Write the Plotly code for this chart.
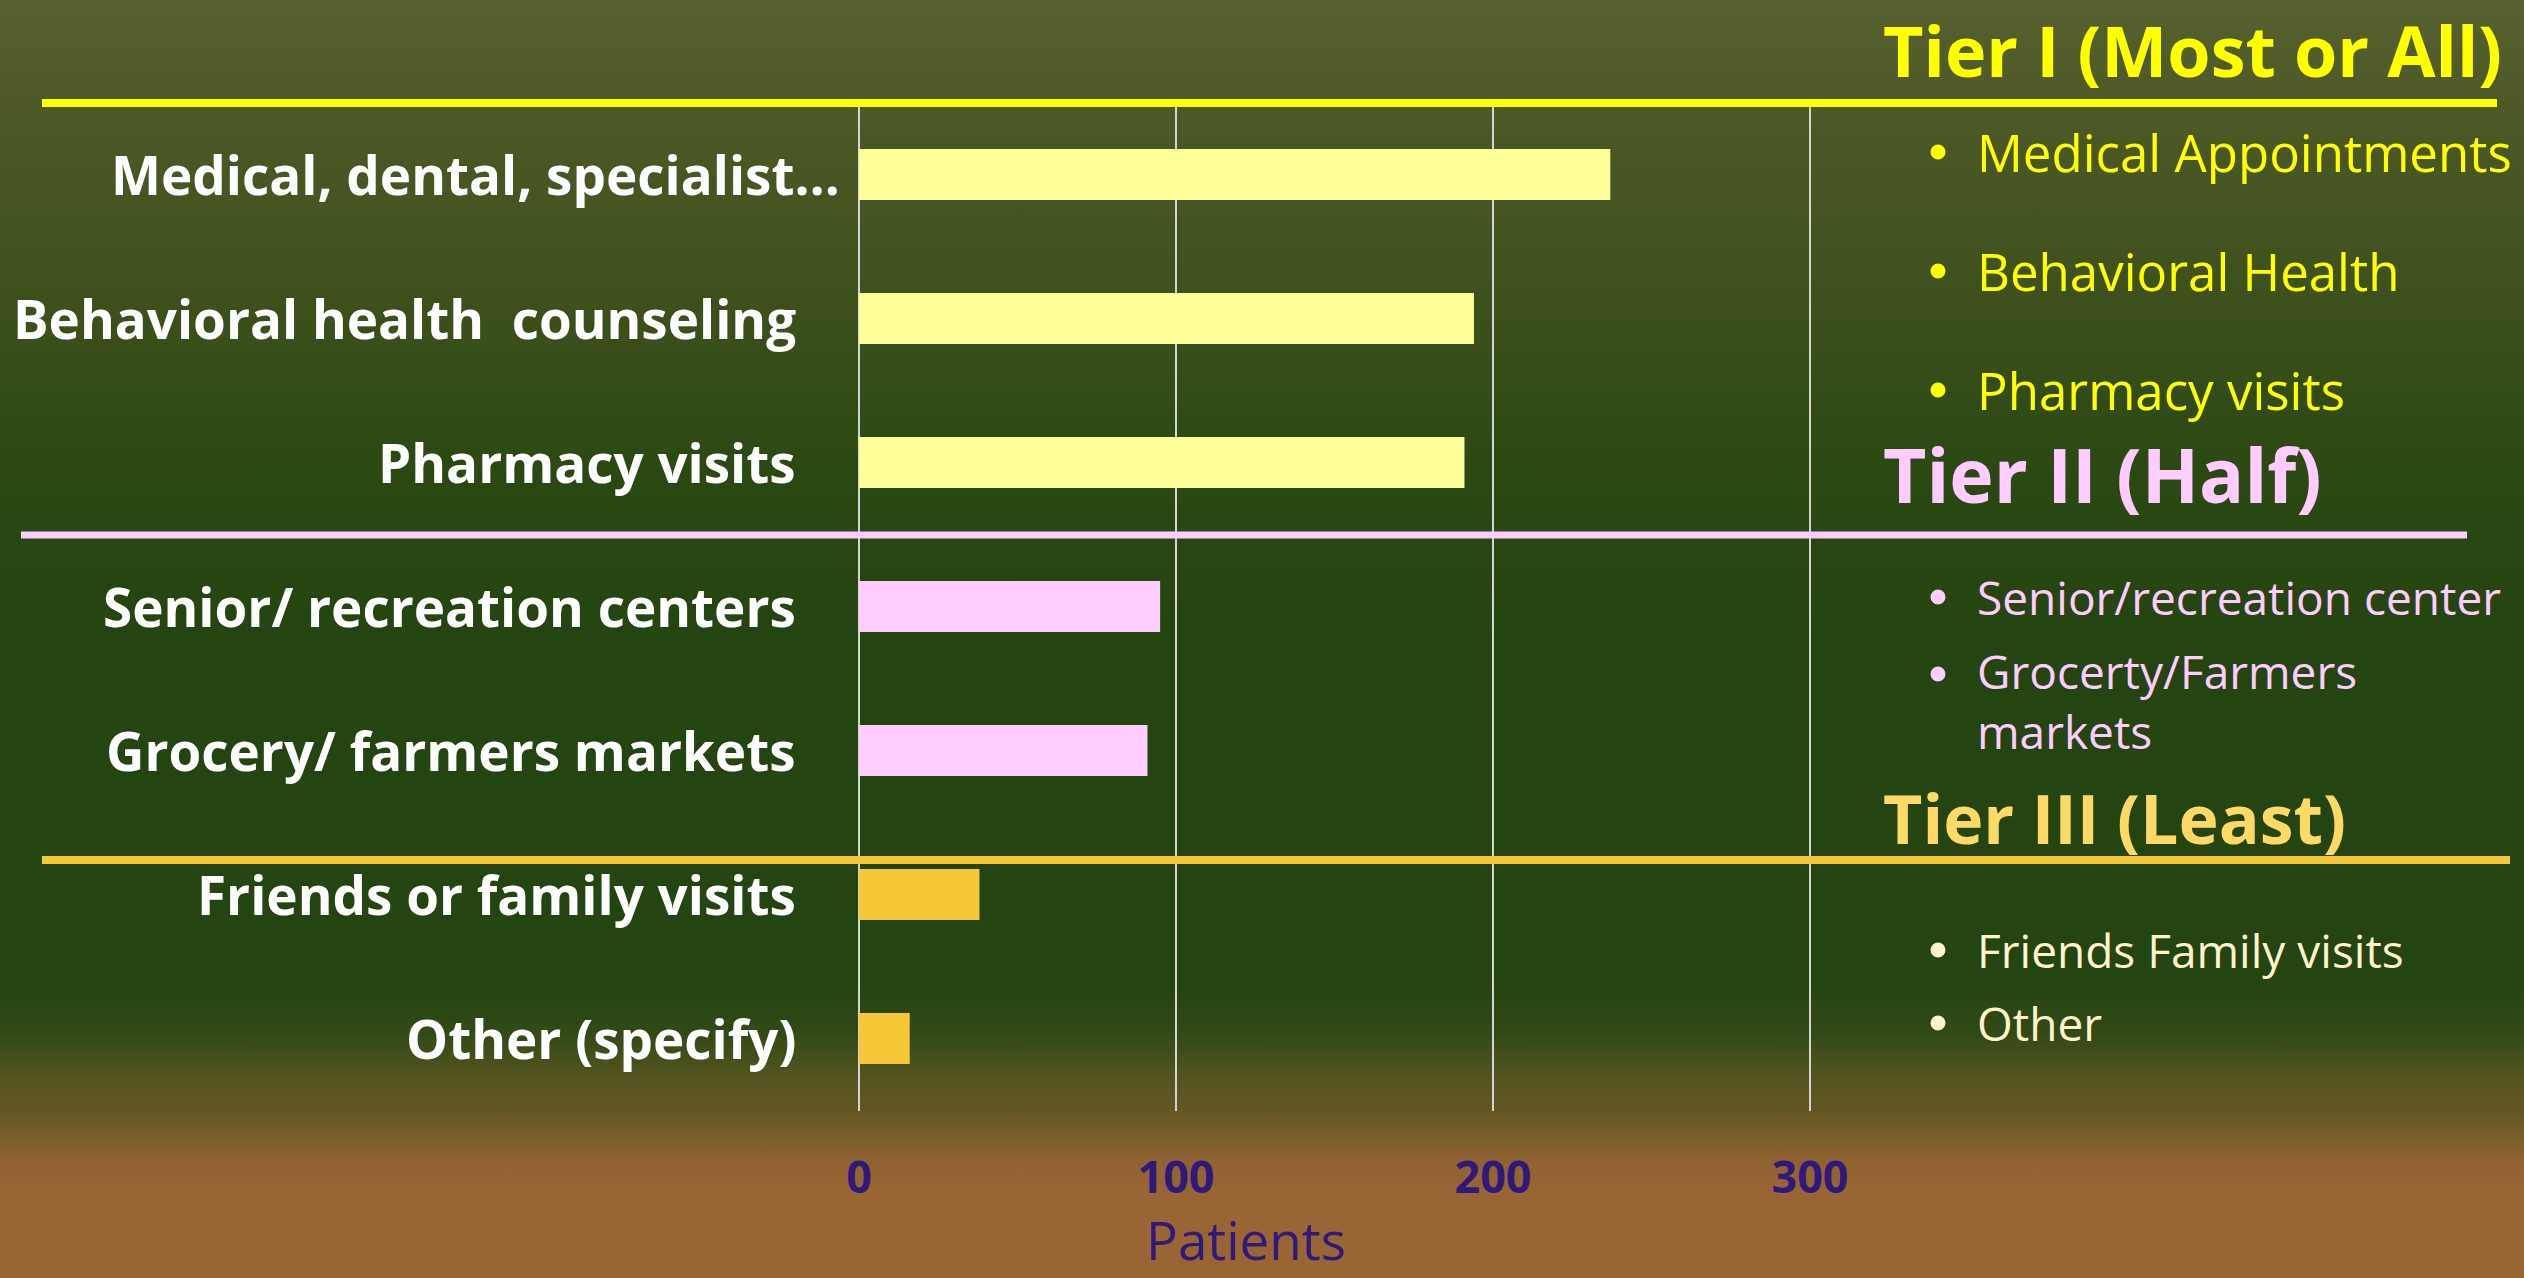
import base64
import plotly.graph_objects as go

# ---------------- data ----------------
categories = [
    "Medical, dental, specialist…",
    "Behavioral health  counseling",
    "Pharmacy visits",
    "Senior/ recreation centers",
    "Grocery/ farmers markets",
    "Friends or family visits",
    "Other (specify)",
]
patients = [237, 194, 191, 95, 91, 38, 16]
tiers = ["I", "I", "I", "II", "II", "III", "III"]

x_ticks = [0, 100, 200, 300]
x_title = "Patients"

tier_headers = ["Tier I (Most or All)", "Tier II (Half)", "Tier III (Least)"]
tier1_items = ["Medical Appointments", "Behavioral Health", "Pharmacy visits"]
tier2_items = ["Senior/recreation center", "Grocerty/Farmers<br>markets"]
tier3_items = ["Friends Family visits", "Other"]

# ---------------- style ----------------
W, H = 2524, 1278
FONT = "Open Sans"
bar_colors = {"I": "#FFFF99", "II": "#FFCCFF", "III": "#F6C736"}
header_colors = ["#FFFF00", "#FFCCFF", "#FFD966"]
item_colors = ["#FFFF00", "#FFCCFF", "#FFF2CC"]
axis_text = "#2F1A7C"


def px(x):
    return x / W


def py(y):
    return 1 - y / H


# background gradient as an SVG image
grad_stops = [
    (0.00, "#57612F"), (0.08, "#4E5927"), (0.24, "#3D501C"), (0.38, "#2A4812"),
    (0.50, "#244411"), (0.77, "#244411"), (0.81, "#334A17"), (0.845, "#575421"),
    (0.87, "#635724"), (0.89, "#7C5D2C"), (0.91, "#916232"), (0.935, "#9A6535"),
    (1.00, "#9A6535"),
]
stops_svg = "".join(
    f'<stop offset="{o}" stop-color="{c}"/>' for o, c in grad_stops
)
svg = (
    f'<svg xmlns="http://www.w3.org/2000/svg" width="{W}" height="{H}" '
    f'preserveAspectRatio="none" viewBox="0 0 {W} {H}">'
    f'<defs><linearGradient id="g" x1="0" y1="0" x2="0" y2="1">{stops_svg}'
    f'</linearGradient></defs><rect width="{W}" height="{H}" fill="url(#g)"/></svg>'
)
bg_src = "data:image/svg+xml;base64," + base64.b64encode(svg.encode()).decode()

fig = go.Figure()
fig.add_trace(
    go.Bar(
        x=patients,
        y=categories,
        orientation="h",
        marker=dict(color=[bar_colors[t] for t in tiers], line=dict(width=0)),
        hoverinfo="x+y",
    )
)

X0, X300 = 859, 1810
xmax = 310
xright = X0 + (X300 - X0) / 300 * xmax
PLOT_TOP, PLOT_BOT = 102.5, 1110.5

fig.update_layout(
    width=W,
    height=H,
    margin=dict(l=0, r=0, t=0, b=0, autoexpand=False),
    paper_bgcolor="#244411",
    plot_bgcolor="rgba(0,0,0,0)",
    showlegend=False,
    bargap=0.645,
    font=dict(family=FONT),
    xaxis=dict(
        domain=[px(X0), px(xright)],
        range=[0, xmax],
        tickvals=x_ticks,
        ticktext=[str(v) for v in x_ticks],
        tickfont=dict(family=FONT, size=45, color=axis_text, weight="bold"),
        showgrid=True,
        gridcolor="#D4D4D4",
        gridwidth=1.6,
        zeroline=True,
        zerolinecolor="#D4D4D4",
        zerolinewidth=1.6,
        showline=False,
        ticks="",
        ticklabelstandoff=36,
        automargin=False,
        fixedrange=True,
    ),
    yaxis=dict(
        domain=[py(PLOT_BOT), py(PLOT_TOP)],
        autorange="reversed",
        showticklabels=False,
        showgrid=False,
        zeroline=False,
        showline=False,
        ticks="",
        automargin=False,
        fixedrange=True,
    ),
    images=[
        dict(
            source=bg_src, xref="paper", yref="paper", x=0, y=1,
            sizex=1, sizey=1, sizing="stretch", xanchor="left",
            yanchor="top", layer="below",
        )
    ],
)

# category labels (right-aligned next to the axis, placed on the y scale)
label_right = [842, 798, 798, 798, 798, 798, 798]
for cat, xr in zip(categories, label_right):
    fig.add_annotation(
        text=cat, xref="paper", yref="y", x=px(xr), y=cat,
        xanchor="right", yanchor="middle", showarrow=False,
        font=dict(family=FONT, size=53, color="#FFFFFF", weight="bold"),
    )

# separator lines
sep_lines = [
    (42, 2497, 103, 8, header_colors[0]),
    (21, 2467, 535, 7, "#FFCCFF"),
    (42, 2510, 860, 8, "#F6C736"),
]
for x0, x1, y, w, c in sep_lines:
    fig.add_shape(
        type="line", xref="paper", yref="paper",
        x0=px(x0), x1=px(x1), y0=py(y), y1=py(y),
        line=dict(color=c, width=w),
    )

# axis title
fig.add_annotation(
    text=x_title, xref="paper", yref="paper", x=px(1246), y=0,
    xanchor="center", yanchor="bottom", showarrow=False,
    font=dict(family=FONT, size=53, color=axis_text),
)

# tier headers
header_pos = [(1881, 0, 70, "top"), (1881, 474, 75, "middle"), (1881, 817, 68, "middle")]
for text, (x, y, s, ya), c in zip(tier_headers, header_pos, header_colors):
    fig.add_annotation(
        text=text, xref="paper", yref="paper", x=px(x), y=py(y),
        xanchor="left", yanchor=ya, showarrow=False,
        font=dict(family=FONT, size=s, color=c, weight="bold"),
    )

# bullet items
item_groups = [
    (tier1_items, [152, 271, 390], [152, 271, 390], 51, item_colors[0]),
    (tier2_items, [597, 701], [597, 674], 46, item_colors[1]),
    (tier3_items, [950, 1023], [950, 1023], 46, item_colors[2]),
]
BR = 7.5  # bullet radius (px)
for items, ys, bys, s, c in item_groups:
    for text, y, by in zip(items, ys, bys):
        fig.add_annotation(
            text=text, xref="paper", yref="paper", x=px(1975), y=py(y),
            xanchor="left", yanchor="middle", showarrow=False, align="left",
            font=dict(family=FONT, size=s, color=c),
        )
        fig.add_shape(
            type="circle", xref="paper", yref="paper",
            x0=px(1938 - BR), x1=px(1938 + BR),
            y0=py(by + BR), y1=py(by - BR),
            fillcolor=c, line=dict(width=0),
        )

fig.write_html(
    "out.html",
    config={"displayModeBar": False},
    post_script="document.body.style.margin='0';document.body.style.overflow='hidden';",
)
